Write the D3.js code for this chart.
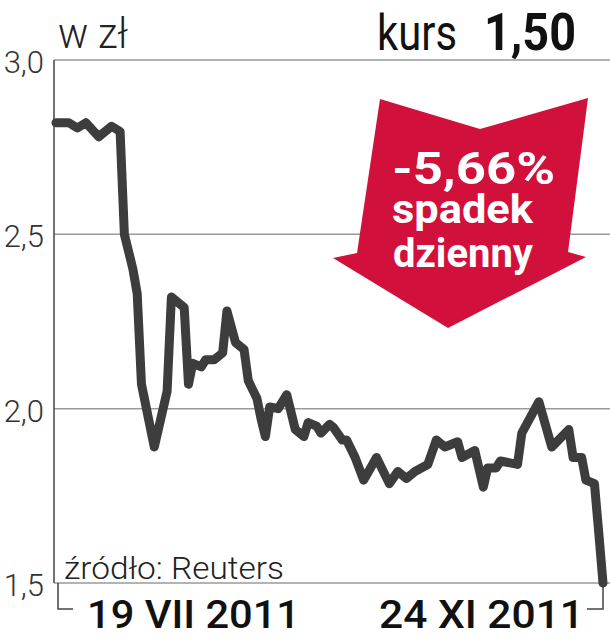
<!DOCTYPE html>
<html>
<head>
<meta charset="utf-8">
<script src="https://cdn.jsdelivr.net/npm/d3@7"></script>
<style>
    body { margin: 0; background: #fff; }
    svg { display: block; }
    text { font-family: Roboto, sans-serif; }
</style>
</head>
<body>
<script>
// Data
const dates = ["2011-07-19", "2011-07-22", "2011-07-24", "2011-07-26", "2011-07-29",
    "2011-08-01", "2011-08-03", "2011-08-04", "2011-08-06", "2011-08-07", "2011-08-08",
    "2011-08-11", "2011-08-14", "2011-08-15", "2011-08-18", "2011-08-19", "2011-08-20",
    "2011-08-22", "2011-08-23", "2011-08-25", "2011-08-27", "2011-08-28", "2011-08-30",
    "2011-09-01", "2011-09-02", "2011-09-04", "2011-09-05", "2011-09-06", "2011-09-07",
    "2011-09-09", "2011-09-11", "2011-09-12", "2011-09-13", "2011-09-15", "2011-09-16",
    "2011-09-18", "2011-09-19", "2011-09-21", "2011-09-22", "2011-09-24", "2011-09-25",
    "2011-09-27", "2011-09-29", "2011-10-02", "2011-10-05", "2011-10-07", "2011-10-09",
    "2011-10-11", "2011-10-14", "2011-10-16", "2011-10-18", "2011-10-21", "2011-10-22",
    "2011-10-25", "2011-10-27", "2011-10-28", "2011-10-30", "2011-10-31", "2011-11-04",
    "2011-11-05", "2011-11-09", "2011-11-12", "2011-11-16", "2011-11-17", "2011-11-19",
    "2011-11-20", "2011-11-22", "2011-11-23", "2011-11-24"];
const prices = [2.82, 2.82, 2.805, 2.82, 2.78,
    2.81, 2.795, 2.50, 2.40, 2.33, 2.07,
    1.89, 2.05, 2.32, 2.29, 2.07, 2.13,
    2.12, 2.14, 2.14, 2.16, 2.28, 2.19,
    2.17, 2.08, 2.03, 1.97, 1.92, 2.005,
    2.00, 2.04, 1.99, 1.94, 1.92, 1.96,
    1.95, 1.93, 1.955, 1.945, 1.91, 1.91,
    1.86, 1.795, 1.86, 1.785, 1.82, 1.80,
    1.82, 1.84, 1.91, 1.89, 1.905, 1.86,
    1.88, 1.775, 1.83, 1.83, 1.85, 1.84,
    1.93, 2.02, 1.89, 1.94, 1.86, 1.86,
    1.795, 1.785, 1.645, 1.50];
const yTicks = [1.5, 2.0, 2.5, 3.0];
const dateLabels = ["19 VII 2011", "24 XI 2011"];
const arrowLines = ["-5,66%", "spadek", "dzienny"];

const width = 610, height = 640;
const margin = {top: 60, right: 7, bottom: 57, left: 56};

const parse = d3.timeParse("%Y-%m-%d");
const series = dates.map((d, i) => ({date: parse(d), value: prices[i]}));

const x = d3.scaleTime()
    .domain(d3.extent(series, d => d.date))
    .range([margin.left, width - margin.right]);
const y = d3.scaleLinear()
    .domain([1.5, 3.0])
    .range([height - margin.bottom, margin.top]);

const svg = d3.select("body").append("svg")
    .attr("width", width)
    .attr("height", height);

// squeeze a text to the width it has in the print
const fit = (sel, w) => sel.attr("textLength", w).attr("lengthAdjust", "spacingAndGlyphs");

// gridlines
svg.append("g")
    .selectAll("line")
    .data(yTicks)
    .join("line")
    .attr("x1", margin.left - 2)
    .attr("x2", width)
    .attr("y1", d => y(d))
    .attr("y2", d => y(d))
    .attr("stroke", "#9a9a9a")
    .attr("stroke-width", 1.5);

svg.append("g")
    .selectAll("text")
    .data(yTicks)
    .join("text")
    .attr("x", 44)
    .attr("y", d => y(d) + 13)
    .attr("text-anchor", "end")
    .style("font-weight", 300)
    .style("font-size", "31px")
    .style("fill", "#333")
    .text(d => d3.format(".1f")(d).replace(".", ","));

// axis, and brackets under the two end dates
const yBase = y(1.5);
svg.append("line")
    .attr("x1", margin.left - 2)
    .attr("x2", margin.left - 2)
    .attr("y1", y(3.0))
    .attr("y2", yBase)
    .attr("stroke", "#444")
    .attr("stroke-width", 1.5);
svg.append("path")
    .attr("d", `M${margin.left + 2},${yBase}V${yBase + 26}h15`)
    .attr("fill", "none")
    .attr("stroke", "#444")
    .attr("stroke-width", 1.5);
svg.append("path")
    .attr("d", `M${x(series[series.length - 1].date)},${yBase}V${yBase + 26}h-16`)
    .attr("fill", "none")
    .attr("stroke", "#444")
    .attr("stroke-width", 1.5);

// arrow
const arrow = [[380, 99], [480, 129], [588, 98], [568, 252], [586, 257],
    [448, 328], [333, 258], [357, 253]];
svg.append("path")
    .attr("d", d3.line()(arrow) + "Z")
    .attr("fill", "#d2103c");

const arrowPos = [{x: 392, y: 184, size: 45, w: 163}, {x: 392, y: 223, size: 41, w: 141},
    {x: 393, y: 267, size: 41, w: 140}];
svg.append("g")
    .selectAll("text")
    .data(arrowLines)
    .join("text")
    .attr("x", (d, i) => arrowPos[i].x)
    .attr("y", (d, i) => arrowPos[i].y)
    .attr("textLength", (d, i) => arrowPos[i].w)
    .attr("lengthAdjust", "spacingAndGlyphs")
    .style("font-weight", "bold")
    .style("font-size", (d, i) => arrowPos[i].size + "px")
    .style("fill", "#fff")
    .text(d => d);

// price line
svg.append("path")
    .datum(series)
    .attr("d", d3.line().x(d => x(d.date)).y(d => y(d.value)))
    .attr("fill", "none")
    .attr("stroke", "#3d3d3d")
    .attr("stroke-width", 9)
    .attr("stroke-linejoin", "round")
    .attr("stroke-linecap", "round");

// texts
svg.append("text")
    .attr("x", 58)
    .attr("y", 48)
    .style("font-weight", 300)
    .style("font-size", "43px")
    .style("fill", "#222")
    .text("w zł")
    .call(fit, 70);

svg.append("text")
    .attr("x", 377)
    .attr("y", 50)
    .style("font-size", "50px")
    .style("fill", "#111")
    .text("kurs")
    .call(fit, 80);

svg.append("text")
    .attr("x", 484)
    .attr("y", 50)
    .style("font-size", "52px")
    .style("font-weight", "bold")
    .style("fill", "#111")
    .text("1,50")
    .call(fit, 92);

svg.append("text")
    .attr("x", 64)
    .attr("y", 579)
    .style("font-weight", 300)
    .style("font-size", "31px")
    .style("fill", "#222")
    .text("źródło: Reuters")
    .call(fit, 220);

svg.append("g")
    .selectAll("text")
    .data(dateLabels)
    .join("text")
    .attr("x", (d, i) => i === 0 ? 87 : 379)
    .attr("y", 628)
    .attr("textLength", (d, i) => i === 0 ? 213 : 205)
    .attr("lengthAdjust", "spacingAndGlyphs")
    .style("font-weight", 500)
    .style("font-size", "38px")
    .style("fill", "#111")
    .text(d => d);
</script>
</body>
</html>
